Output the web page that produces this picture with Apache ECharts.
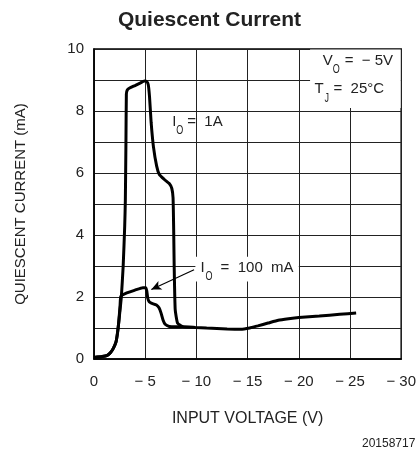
<!DOCTYPE html>
<html><head><meta charset="utf-8">
<script src="https://cdn.jsdelivr.net/npm/echarts/dist/echarts.min.js"></script>
<style>html,body{margin:0;padding:0;background:#fff}#c{width:419px;height:459px}</style>
</head><body><div id="c"></div>
<script>
// Input voltage (V) and quiescent current (mA)
const v1A = [0,-0.8,-1.3,-1.6,-1.9,-2.15,-2.3,-2.42,-2.55,-2.67,-2.85,-3.0,-3.06,-3.12,-3.16,-3.25,-3.48,-4.0,-4.5,-4.93,-5.15,-5.3,-5.42,-5.58,-5.8,-6.12,-6.38,-6.87,-7.35,-7.6,-7.72,-7.78,-7.83,-7.93,-8.16,-8.64,-9.9,-11,-13,-14.3,-15.2,-16,-17,-18,-19,-20,-22,-24,-25.6];
const i1A = [0.05,0.08,0.12,0.2,0.35,0.55,0.85,1.2,1.6,2.0,3.0,4.3,5.1,7.0,8.55,8.68,8.74,8.82,8.9,8.97,8.95,8.85,8.47,7.63,6.86,6.22,5.95,5.79,5.66,5.5,5.2,4.2,3.0,1.59,1.16,1.05,1.02,1.0,0.97,0.96,1.0,1.07,1.16,1.25,1.3,1.34,1.39,1.44,1.48];
const v100 = [0,-0.8,-1.3,-1.6,-1.9,-2.15,-2.3,-2.42,-2.55,-2.62,-3.2,-4.0,-4.77,-5.05,-5.15,-5.25,-5.4,-5.6,-6.1,-6.35,-6.55,-6.75,-6.95,-7.35,-8.0,-8.64];
const i100 = [0.05,0.08,0.12,0.2,0.35,0.55,0.85,1.2,1.75,2.02,2.13,2.22,2.3,2.3,2.2,1.96,1.84,1.8,1.74,1.65,1.48,1.25,1.12,1.05,1.04,1.05];
const yTicks = [0,2,4,6,8,10];
const xTicks = [0,-5,-10,-15,-20,-25,-30];

const FONT = 'Liberation Sans, Arial, sans-serif';
const TXT = '#222';
const pair = (xs, ys) => xs.map((x, k) => [x, ys[k]]);

const chart = echarts.init(document.getElementById('c'), null, {renderer: 'canvas'});
chart.setOption({
  animation: false,
  backgroundColor: '#fff',
  title: {
    text: 'Quiescent Current', left: 'center', top: 5,
    textStyle: {fontFamily: FONT, fontWeight: 'bold', fontSize: 21, color: TXT}
  },
  grid: {left: 94, right: 15, top: 49, bottom: 100, show: true, borderColor: '#000', borderWidth: 1.5},
  xAxis: {
    type: 'value', min: -30, max: 0, interval: 5, inverse: true,
    name: 'INPUT VOLTAGE (V)', nameLocation: 'middle', nameGap: 52,
    nameTextStyle: {fontFamily: FONT, fontSize: 16, color: TXT},
    axisLine: {show: true, lineStyle: {color: '#000', width: 1.5}},
    axisTick: {show: false},
    splitLine: {show: true, lineStyle: {color: '#222', width: 1}},
    axisLabel: {
      fontFamily: FONT, fontSize: 15, color: TXT, margin: 15,
      formatter: v => xTicks.includes(v) ? (v === 0 ? '0' : '\u2212 ' + Math.abs(v)) : ''
    }
  },
  yAxis: {
    type: 'value', min: 0, max: 10, interval: 1,
    name: 'QUIESCENT CURRENT (mA)', nameLocation: 'middle', nameGap: 66,
    nameTextStyle: {fontFamily: FONT, fontSize: 15, color: TXT},
    axisLine: {show: true, lineStyle: {color: '#000', width: 1.5}},
    axisTick: {show: false},
    splitLine: {show: true, lineStyle: {color: '#222', width: 1}},
    axisLabel: {
      fontFamily: FONT, fontSize: 15, color: TXT, margin: 10,
      formatter: v => yTicks.includes(v) ? String(v) : ''
    }
  },
  series: [
    {
      name: 'IO = 1A', type: 'line', data: pair(v1A, i1A), showSymbol: false, smooth: 0.15,
      lineStyle: {color: '#000', width: 3}, z: 5
    },
    {
      name: 'IO = 100 mA', type: 'line', data: pair(v100, i100), showSymbol: false, smooth: 0.15,
      lineStyle: {color: '#000', width: 3}, z: 5,
      markLine: {
        silent: true, symbol: ['none', 'arrow'], symbolSize: [7, 10],
        label: {show: false},
        lineStyle: {color: '#000', width: 1.2, type: 'solid'},
        data: [[{coord: [-9.77, 2.88]}, {coord: [-5.6, 2.24]}]]
      }
    }
  ]
});

const px = (v, i) => chart.convertToPixel({gridIndex: 0}, [v, i]);

function subLabel(x, y, main, sub, rest, subDx, restDx) {
  const s = {fontFamily: FONT, fontSize: 15, fill: TXT, verticalAlign: 'middle'};
  return [
    {type: 'text', z: 120, x: x, y: y, style: Object.assign({}, s, {text: main})},
    {type: 'text', z: 120, x: x + subDx, y: y + 9, scaleX: 0.75, style: Object.assign({}, s, {text: sub, fontSize: 12})},
    {type: 'text', z: 120, x: x + restDx, y: y, style: Object.assign({}, s, {text: rest})}
  ];
}

const boxTL = px(-21.1, 9.98), boxBR = px(-29.95, 8.1);
const lab1 = px(-7.64, 7.65);
const lab100 = px(-10.41, 2.95);
const labV = px(-22.33, 9.62);
const labT = px(-21.53, 8.7);
const bg100TL = px(-9.9, 3.3), bg100BR = px(-20.0, 2.5);

chart.setOption({
  graphic: [
    {type: 'rect', z: 110, shape: {x: boxTL[0], y: boxTL[1], width: boxBR[0] - boxTL[0], height: boxBR[1] - boxTL[1]}, style: {fill: '#fff'}},
    {type: 'rect', z: 110, shape: {x: bg100TL[0], y: bg100TL[1], width: bg100BR[0] - bg100TL[0], height: bg100BR[1] - bg100TL[1]}, style: {fill: '#fff'}}
  ].concat(
    subLabel(lab1[0], lab1[1], 'I', 'O', '=  1A', 4, 15),
    subLabel(lab100[0], lab100[1], 'I', 'O', '=  100  mA', 5, 20),
    subLabel(labV[0], labV[1], 'V', 'O', '=  \u2212 5V', 10, 22),
    subLabel(labT[0], labT[1], 'T', 'J', '=  25\u00B0C', 10, 19),
    [{type: 'text', z: 120, x: 362, y: 438, style: {text: '20158717', fontFamily: FONT, fontSize: 12, fill: TXT}}]
  )
});
</script></body></html>
